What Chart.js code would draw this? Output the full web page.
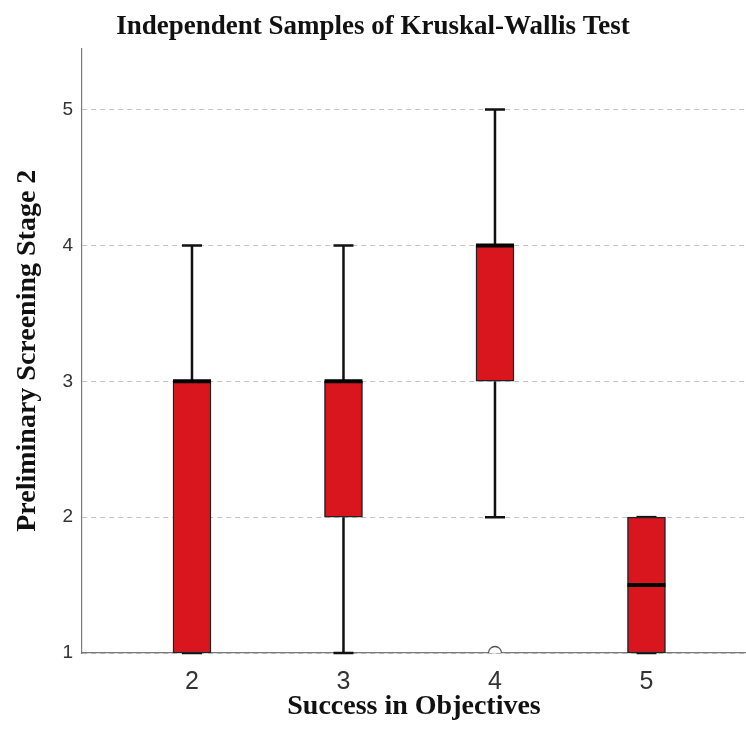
<!DOCTYPE html>
<html>
<head>
<meta charset="utf-8">
<title>Independent Samples of Kruskal-Wallis Test</title>
<script src="https://cdn.jsdelivr.net/npm/chart.js@4.4.1/dist/chart.umd.min.js"></script>
<style>
  html, body { margin: 0; padding: 0; background: #ffffff; overflow: hidden; }
  #wrap { width: 746px; height: 745px; }
  canvas { display: block; }
</style>
</head>
<body>
<div id="wrap"><canvas id="chart" width="746" height="745"></canvas></div>
<script>
// Box-plot summary per group of "Success in Objectives"
const categories   = [2, 3, 4, 5];
const whiskerLow   = [1, 1, 2, 1];
const quartile1    = [1, 2, 3, 1];
const medians      = [3, 3, 4, 1.5];
const quartile3    = [3, 3, 4, 2];
const whiskerHigh  = [4, 4, 5, 2];
const outlierGroup = [4];
const outlierValue = [1];
const yTicks       = [1, 2, 3, 4, 5];

const boxData = categories.map((c, i) => ({ x: c, y: [quartile1[i], quartile3[i]] }));
const outlierData = outlierGroup.map((g, i) => ({ x: g, y: outlierValue[i] }));

const serif = '"Liberation Serif", "Times New Roman", serif';
const sans = '"Liberation Sans", Arial, sans-serif';

// Whiskers (behind the boxes) and medians (on top), placed through the chart scales
const boxPlotLines = {
  id: 'boxPlotLines',
  beforeDatasetsDraw(chart) {
    const { ctx, scales: { x, y } } = chart;
    ctx.save();
    ctx.strokeStyle = '#111';
    ctx.lineWidth = 2.5;
    categories.forEach((c, i) => {
      const px = x.getPixelForValue(c);
      const capHalf = 10;
      [[quartile3[i], whiskerHigh[i]], [quartile1[i], whiskerLow[i]]].forEach(([from, to]) => {
        const y0 = y.getPixelForValue(from);
        const y1 = y.getPixelForValue(to);
        ctx.beginPath();
        ctx.moveTo(px, y0);
        ctx.lineTo(px, y1);
        ctx.moveTo(px - capHalf, y1);
        ctx.lineTo(px + capHalf, y1);
        ctx.stroke();
      });
    });
    ctx.restore();
  },
  afterDatasetsDraw(chart) {
    const { ctx, scales: { x, y } } = chart;
    const meta = chart.getDatasetMeta(0);
    ctx.save();
    ctx.strokeStyle = '#000';
    ctx.lineWidth = 4;
    categories.forEach((c, i) => {
      const bar = meta.data[i];
      const half = bar.width / 2;
      const px = x.getPixelForValue(c);
      const py = y.getPixelForValue(medians[i]);
      ctx.beginPath();
      ctx.moveTo(px - half, py);
      ctx.lineTo(px + half, py);
      ctx.stroke();
    });
    ctx.restore();
  }
};

new Chart(document.getElementById('chart'), {
  type: 'bar',
  data: {
    datasets: [
      {
        type: 'bar',
        data: boxData,
        backgroundColor: '#d9161e',
        borderColor: '#222222',
        borderWidth: 1.5,
        borderSkipped: false,
        barThickness: 38,
        order: 2
      },
      {
        type: 'scatter',
        data: outlierData,
        pointStyle: 'circle',
        pointRadius: 6.5,
        pointBackgroundColor: '#ffffff',
        pointBorderColor: '#555555',
        pointBorderWidth: 1.3,
        order: 1
      }
    ]
  },
  options: {
    responsive: false,
    animation: false,
    layout: { padding: 0, autoPadding: false },
    plugins: {
      legend: { display: false },
      tooltip: { enabled: false },
      title: {
        display: true,
        text: 'Independent Samples of Kruskal-Wallis Test',
        color: '#111',
        font: { family: serif, size: 27, weight: 'bold' },
        padding: { top: 11, bottom: 5 }
      }
    },
    scales: {
      x: {
        type: 'linear',
        offset: false,
        min: 1.274,
        max: 5.657,
        afterBuildTicks(scale) { scale.ticks = categories.map(v => ({ value: v })); },
        afterFit(scale) {
          scale.height = 92;
          scale.paddingLeft = 0;
          scale.paddingRight = 0;
        },
        grid: { display: false, drawTicks: false, offset: false },
        border: { display: true, color: '#7a7a7a', width: 1.2 },
        ticks: {
          color: '#333',
          padding: 14,
          font: { family: sans, size: 25 },
          callback: v => String(v)
        },
        title: {
          display: true,
          text: 'Success in Objectives',
          color: '#111',
          font: { family: serif, size: 28, weight: 'bold' },
          padding: { top: 0, bottom: 21 }
        }
      },
      y: {
        type: 'linear',
        min: 1,
        max: 5.45,
        afterBuildTicks(scale) { scale.ticks = yTicks.map(v => ({ value: v })); },
        afterFit(scale) { scale.width = 82; },
        grid: {
          drawTicks: false,
          color: '#c4c4c4',
          lineWidth: 1
        },
        border: { display: true, color: '#7a7a7a', width: 1.2, dash: [5, 4] },
        ticks: {
          color: '#333',
          padding: 9,
          font: { family: sans, size: 19 }
        },
        title: {
          display: true,
          text: 'Preliminary Screening Stage 2',
          color: '#111',
          font: { family: serif, size: 28, weight: 'bold' },
          padding: { top: 11, bottom: 0 }
        }
      }
    }
  },
  plugins: [boxPlotLines]
});
</script>
</body>
</html>
